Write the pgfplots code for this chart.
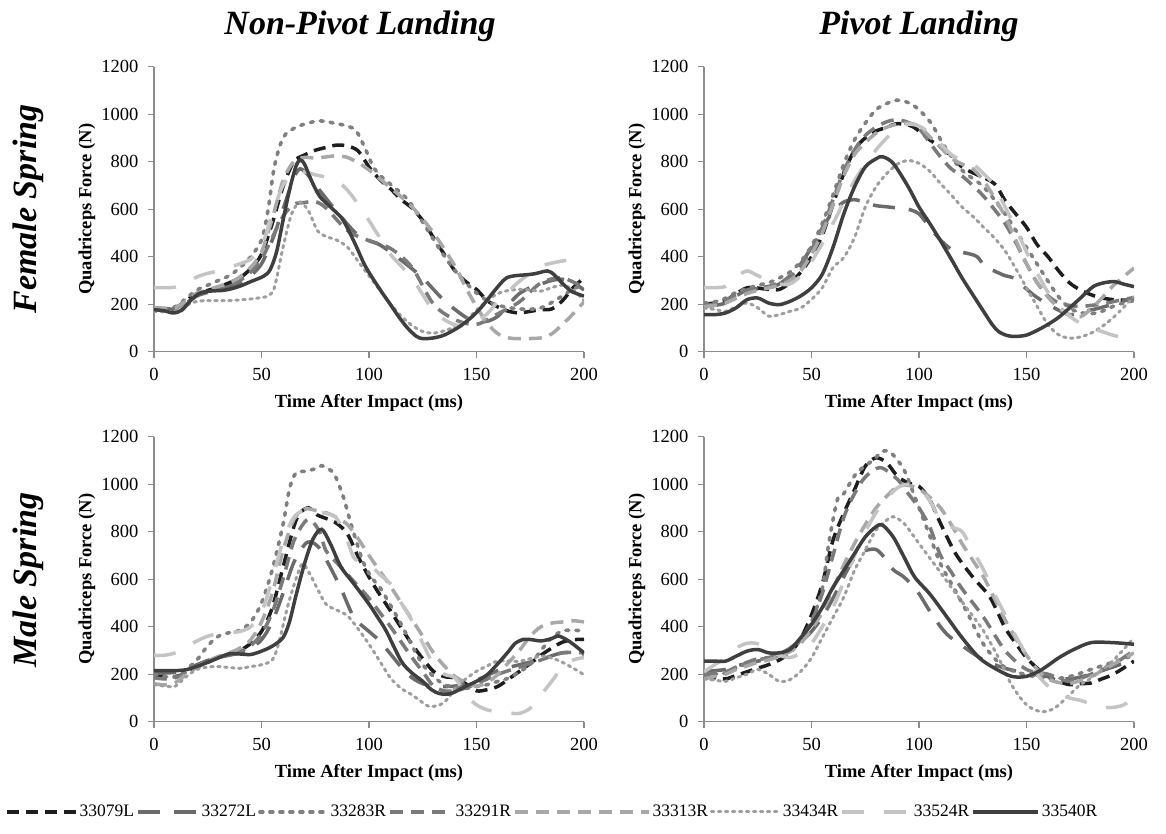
\documentclass[border=0pt]{standalone}
\usepackage{fontspec}
\setmainfont{Liberation Serif}
\usepackage{pgfplots}
\pgfplotsset{compat=1.18}
\definecolor{axgray}{HTML}{8C8C8C}
\definecolor{c79}{HTML}{1E1E1E}
\definecolor{c72}{HTML}{6B6B6B}
\definecolor{c83}{HTML}{808080}
\definecolor{c91}{HTML}{7A7A7A}
\definecolor{c13}{HTML}{A8A8A8}
\definecolor{c34}{HTML}{9E9E9E}
\definecolor{c24}{HTML}{C4C4C4}
\definecolor{c40}{HTML}{3F3F3F}
\tikzset{
 s79/.style={c79,line width=3.5pt,dash pattern=on 12pt off 7pt,smooth},
 s72/.style={c72,line width=3.5pt,dash pattern=on 22pt off 14pt,smooth},
 s83/.style={c83,line width=3.6pt,line cap=round,dash pattern=on 3pt off 7pt,smooth},
 s91/.style={c91,line width=3.5pt,dash pattern=on 13pt off 8pt,smooth},
 s13/.style={c13,line width=3.5pt,dash pattern=on 13pt off 8pt,smooth},
 s34/.style={c34,line width=3pt,line cap=round,dash pattern=on 2.5pt off 4.5pt,smooth},
 s24/.style={c24,line width=3.5pt,dash pattern=on 22pt off 20pt,smooth},
 s40/.style={c40,line width=3.5pt,solid,smooth},
}
\pgfplotsset{
 lg/.style={legend image code/.code={\draw[##1] (0pt,0pt) -- (#1,0pt);}},
 panel/.style={
  scale only axis, width=430pt, height=285pt,
  xmin=0,xmax=200,ymin=0,ymax=1200,
  xtick={0,50,...,200}, ytick={0,200,...,1200},
  axis x line=bottom, axis y line=left,
  axis line style={-, draw=axgray, line width=1.3pt},
  tick align=outside, major tick length=6pt,
  tick style={draw=axgray, line width=1.3pt},
  every tick label/.append style={font=\fontsize{18.5}{20}\selectfont, text=black},
  xticklabel style={yshift=-7pt},
  yticklabel style={xshift=-6pt},
  /pgf/number format/assume math mode=true,
  /pgf/number format/1000 sep={},
  xlabel={Time After Impact (ms)}, ylabel={Quadriceps Force (N)},
  label style={font=\bfseries\fontsize{18.5}{20}\selectfont},
  xlabel style={at={(axis description cs:0.5,-0.179)},anchor=center},
  ylabel style={at={(axis description cs:-0.156,0.5)},anchor=center},
  no marks,
 }
}
\begin{document}
\begin{tikzpicture}
\path[use as bounding box] (0,0) rectangle (1166pt,834pt);
\node[font=\bfseries\itshape\fontsize{34}{38}\selectfont,anchor=base] at (360pt,799pt) {Non-Pivot Landing};
\node[font=\bfseries\itshape\fontsize{34}{38}\selectfont,anchor=base] at (919pt,799pt) {Pivot Landing};
\node[font=\bfseries\itshape\fontsize{34}{38}\selectfont,rotate=90,anchor=center] at (28pt,625pt) {Female Spring};
\node[font=\bfseries\itshape\fontsize{34}{38}\selectfont,rotate=90,anchor=center] at (28pt,254pt) {Male Spring};

% ---------- Female, Non-Pivot ----------
\begin{axis}[panel, at={(154pt,482.3pt)}, anchor=south west]
\addplot[s79] coordinates {(0,180)(5,178)(10,185)(15,215)(20,245)(25,258)(30,272)(35,290)(40,311)(45,350)(50,410)(55,540)(60,694)(65,800)(70,828)(75,848)(80,860)(85,870)(90,866)(95,845)(100,778)(105,725)(110,686)(115,640)(120,605)(125,552)(130,480)(135,410)(140,340)(145,295)(150,262)(155,215)(160,188)(165,170)(170,163)(175,170)(180,177)(185,180)(190,215)(195,270)(200,311)};
\addplot[s72] coordinates {(0,185)(5,182)(10,180)(15,205)(20,235)(25,250)(30,262)(35,275)(40,290)(45,320)(50,370)(55,470)(60,600)(65,730)(68,770)(72,740)(77,680)(85,590)(95,490)(105,450)(115,385)(125,310)(135,215)(145,145)(150,130)(155,128)(160,150)(165,200)(170,245)(175,270)(180,285)(185,300)(190,305)(195,290)(200,260)};
\addplot[s83] coordinates {(0,185)(5,180)(10,190)(15,225)(20,260)(25,280)(30,300)(35,320)(40,354)(45,400)(50,470)(53,594)(56,780)(60,900)(65,940)(70,958)(77,972)(85,960)(90,950)(94,930)(98,860)(102,778)(106,735)(110,705)(118,640)(125,545)(133,430)(141,330)(149,255)(155,215)(160,195)(170,180)(180,185)(190,235)(195,265)(200,280)};
\addplot[s91] coordinates {(0,180)(5,178)(10,182)(15,210)(20,240)(25,255)(30,265)(35,280)(40,300)(45,335)(50,390)(55,480)(60,570)(65,620)(70,628)(75,632)(80,605)(90,510)(100,467)(110,435)(120,355)(130,200)(140,135)(150,115)(160,160)(170,210)(180,290)(190,310)(200,270)};
\addplot[s13] coordinates {(0,185)(5,182)(10,185)(15,215)(20,245)(25,260)(30,275)(35,290)(40,315)(45,355)(50,420)(55,560)(60,720)(65,800)(70,818)(75,815)(80,820)(85,825)(90,818)(95,795)(100,765)(110,690)(120,610)(130,500)(140,360)(145,270)(150,190)(155,120)(160,75)(165,58)(170,55)(180,58)(185,75)(190,115)(195,160)(200,210)};
\addplot[s34] coordinates {(0,170)(5,168)(10,172)(15,195)(20,212)(25,215)(30,215)(35,215)(40,218)(45,222)(50,228)(53,235)(56,270)(60,439)(64,580)(68,630)(72,590)(76,510)(80,485)(85,470)(90,440)(95,380)(100,320)(105,260)(110,200)(115,150)(120,110)(125,85)(130,78)(135,88)(140,105)(145,130)(150,175)(155,215)(160,245)(165,258)(170,262)(175,260)(180,255)(185,270)(190,280)(195,260)(200,215)};
\addplot[s24] coordinates {(0,270)(5,270)(10,272)(15,290)(20,315)(25,330)(30,340)(35,355)(40,370)(45,390)(50,440)(55,580)(60,700)(65,755)(70,757)(75,745)(80,735)(85,720)(90,680)(95,620)(100,552)(105,480)(110,410)(115,360)(120,311)(125,240)(130,170)(135,135)(140,113)(145,110)(150,127)(155,160)(160,212)(165,255)(170,297)(175,330)(180,361)(190,382)(200,395)};
\addplot[s40] coordinates {(0,177)(5,172)(9,163)(13,175)(17,215)(21,245)(26,255)(32,258)(36,265)(40,276)(45,295)(51,318)(54,345)(57,420)(60,552)(63,680)(66,780)(68,807)(70,790)(73,725)(77,655)(82,610)(87,566)(90,520)(94,445)(98,365)(102,305)(106,250)(110,198)(114,145)(118,99)(122,65)(125,55)(130,58)(135,70)(141,99)(145,125)(149,156)(153,195)(157,241)(161,285)(164,311)(168,320)(172,323)(177,328)(183,340)(186,325)(189,297)(194,255)(200,234)};
\end{axis}

% ---------- Female, Pivot ----------
\begin{axis}[panel, at={(704pt,482.3pt)}, anchor=south west]
\addplot[s79] coordinates {(0,200)(5,205)(10,215)(15,245)(20,269)(25,268)(30,262)(35,262)(40,290)(45,335)(50,400)(55,490)(60,620)(65,750)(70,850)(74,892)(79,925)(85,945)(90,960)(97,948)(105,892)(112,849)(120,778)(127,745)(135,708)(140,637)(145,580)(150,524)(155,450)(160,400)(165,340)(170,290)(175,260)(180,240)(185,226)(192,218)(200,218)};
\addplot[s72] coordinates {(0,190)(5,195)(10,205)(15,235)(20,260)(25,265)(30,270)(35,285)(40,320)(45,370)(50,440)(55,520)(60,590)(65,630)(70,640)(75,628)(80,615)(85,610)(90,605)(95,600)(100,580)(105,524)(110,470)(116,425)(122,415)(127,400)(131,355)(135,340)(140,320)(144,311)(148,280)(153,241)(158,210)(163,184)(170,156)(177,170)(184,184)(192,205)(200,226)};
\addplot[s83] coordinates {(0,205)(5,210)(10,225)(15,250)(20,265)(25,280)(30,290)(35,310)(40,335)(45,380)(50,445)(55,540)(60,660)(65,790)(70,892)(75,962)(80,1019)(85,1045)(90,1059)(97,1040)(105,970)(112,863)(120,764)(130,694)(140,580)(150,439)(160,297)(165,230)(170,184)(175,165)(180,160)(185,170)(190,190)(195,205)(200,215)};
\addplot[s91] coordinates {(0,195)(5,200)(10,215)(15,240)(20,258)(25,268)(30,275)(35,290)(40,315)(45,360)(50,430)(55,520)(60,640)(65,760)(70,850)(75,910)(80,945)(85,968)(90,977)(95,965)(100,940)(105,880)(110,820)(115,770)(120,740)(125,700)(130,655)(135,600)(140,540)(145,460)(150,370)(155,290)(160,235)(165,205)(170,195)(175,190)(180,195)(185,200)(190,210)(195,220)(200,228)};
\addplot[s13] coordinates {(0,190)(5,195)(10,205)(15,225)(20,245)(25,258)(30,268)(35,280)(40,300)(45,340)(50,410)(55,500)(60,620)(65,740)(70,830)(75,880)(80,920)(85,945)(90,958)(95,962)(100,950)(105,905)(110,860)(115,815)(120,790)(125,770)(130,720)(135,650)(140,570)(145,470)(150,370)(155,290)(160,230)(165,185)(170,155)(175,147)(180,180)(185,225)(190,275)(195,315)(200,352)};
\addplot[s34] coordinates {(0,184)(5,178)(10,170)(15,190)(20,205)(25,185)(30,150)(35,156)(40,170)(45,184)(50,220)(55,269)(60,354)(65,396)(70,481)(75,609)(80,694)(85,750)(90,790)(95,805)(100,793)(105,760)(110,708)(115,660)(120,609)(125,570)(130,524)(135,480)(140,425)(145,350)(150,269)(155,190)(160,113)(165,71)(170,57)(175,62)(180,78)(185,105)(190,141)(195,185)(200,232)};
\addplot[s24] coordinates {(0,270)(5,270)(10,275)(15,315)(20,340)(25,320)(30,300)(35,285)(40,285)(45,320)(50,380)(55,455)(60,540)(65,630)(70,720)(75,790)(80,850)(85,900)(90,940)(95,958)(100,950)(105,920)(110,875)(115,830)(120,805)(125,790)(130,750)(135,700)(140,610)(145,520)(150,420)(155,330)(160,250)(165,195)(170,150)(175,120)(180,100)(185,85)(190,70)(195,60)(200,57)};
\addplot[s40] coordinates {(0,156)(5,156)(10,163)(15,185)(20,219)(25,226)(30,205)(35,198)(40,212)(45,235)(50,269)(55,326)(60,439)(65,580)(70,694)(75,778)(80,812)(83,821)(88,793)(95,694)(100,609)(105,540)(110,467)(115,390)(120,311)(125,240)(130,170)(134,115)(137,85)(141,68)(145,64)(150,70)(155,90)(160,115)(165,145)(170,184)(175,225)(181,274)(186,290)(191,295)(195,285)(200,274)};
\end{axis}

% ---------- Male, Non-Pivot ----------
\begin{axis}[panel, at={(154pt,112.3pt)}, anchor=south west,
  legend columns=8,
  legend style={at={(axis description cs:-0.3465,-0.316)}, anchor=west, draw=none, fill=none,
    font=\fontsize{17.5}{19}\selectfont, inner sep=0pt,
    nodes={inner xsep=2pt, inner ysep=1pt},
    /tikz/every odd column/.append style={column sep=0pt},
    /tikz/every even column/.append style={column sep=0pt}},
  legend cell align=left,
  legend entries={33079L,33272L,33283R,33291R,33313R,33434R,33524R,33540R}]
\addplot[s79,lg=69pt] coordinates {(0,190)(5,190)(10,190)(15,205)(20,230)(25,250)(30,270)(35,285)(40,300)(45,330)(50,380)(55,480)(60,650)(65,820)(68,880)(72,900)(76,870)(80,856)(85,835)(90,790)(95,694)(100,609)(105,535)(110,467)(115,395)(120,326)(125,265)(130,212)(135,190)(140,184)(145,160)(150,130)(155,135)(160,149)(165,180)(170,212)(175,245)(180,280)(185,310)(190,335)(195,345)(200,347)};
\addplot[s72,lg=60pt] coordinates {(0,205)(5,205)(10,208)(15,220)(20,240)(25,258)(30,270)(35,280)(40,290)(45,310)(50,345)(55,420)(60,540)(65,670)(70,745)(73,757)(77,730)(82,650)(87,560)(93,440)(100,380)(105,340)(110,285)(115,230)(120,185)(125,160)(130,150)(140,150)(150,175)(160,215)(170,240)(180,262)(190,290)(200,285)};
\addplot[s83,lg=67pt] coordinates {(0,200)(5,190)(10,190)(15,220)(20,260)(25,320)(30,360)(35,375)(40,385)(45,420)(50,500)(55,640)(60,830)(63,980)(66,1047)(70,1054)(75,1065)(78,1078)(81,1065)(84,1040)(88,948)(92,821)(97,679)(101,610)(105,566)(110,490)(115,410)(120,320)(125,241)(130,190)(135,156)(140,145)(145,141)(150,148)(155,156)(160,170)(165,184)(170,210)(175,241)(180,300)(185,354)(190,382)(195,385)(200,382)};
\addplot[s91,lg=62pt] coordinates {(0,185)(5,180)(10,185)(15,210)(20,235)(25,255)(30,270)(35,280)(40,295)(45,320)(50,370)(55,460)(60,600)(65,760)(70,840)(73,849)(77,800)(80,720)(85,670)(90,620)(95,570)(100,520)(105,460)(110,400)(115,335)(120,270)(125,210)(130,150)(135,130)(140,130)(145,142)(150,160)(155,180)(160,200)(170,230)(180,260)(190,290)(200,290)};
\addplot[s13,lg=134pt] coordinates {(0,160)(5,155)(10,165)(15,200)(20,230)(25,255)(30,275)(35,290)(40,310)(45,345)(50,420)(55,540)(60,720)(65,850)(70,895)(75,890)(80,880)(85,860)(90,830)(95,770)(100,700)(105,635)(110,570)(115,500)(120,430)(125,360)(130,290)(135,235)(140,190)(145,165)(150,150)(155,165)(160,200)(165,250)(170,300)(175,360)(180,400)(185,415)(190,420)(195,425)(200,420)};
\addplot[s34,lg=68pt] coordinates {(0,156)(5,150)(10,150)(15,190)(20,220)(25,230)(30,232)(35,228)(40,225)(45,232)(50,240)(55,260)(58,330)(62,480)(66,600)(69,665)(72,630)(76,560)(80,495)(85,470)(90,446)(95,390)(100,326)(105,255)(110,184)(115,140)(120,113)(125,80)(128,64)(133,71)(137,100)(140,141)(145,180)(150,212)(155,235)(160,255)(170,255)(180,276)(185,268)(190,250)(195,225)(200,198)};
\addplot[s24,lg=68pt] coordinates {(0,280)(5,280)(10,290)(15,315)(20,340)(25,360)(30,370)(35,375)(40,380)(45,400)(50,460)(55,600)(60,760)(65,860)(70,890)(75,880)(80,877)(85,856)(90,760)(93,690)(97,670)(100,665)(105,620)(110,580)(115,500)(120,425)(125,330)(130,241)(135,200)(140,184)(145,113)(150,71)(155,50)(160,42)(165,37)(170,35)(175,57)(180,113)(185,170)(190,230)(195,260)(200,270)};
\addplot[s40,lg=65pt] coordinates {(0,215)(5,215)(10,215)(15,219)(20,233)(25,250)(30,269)(35,286)(40,285)(45,283)(50,297)(55,318)(60,354)(63,420)(66,530)(70,665)(74,770)(78,810)(82,750)(87,651)(93,580)(100,495)(104,440)(108,382)(115,255)(120,205)(125,170)(129,135)(133,118)(138,118)(145,149)(150,170)(155,198)(160,245)(165,297)(168,330)(172,347)(176,345)(180,340)(185,350)(188,361)(192,345)(195,326)(200,290)};
\end{axis}

% ---------- Male, Pivot ----------
\begin{axis}[panel, at={(704pt,112.3pt)}, anchor=south west]
\addplot[s79] coordinates {(0,190)(5,185)(10,180)(15,195)(20,210)(25,225)(30,240)(35,260)(40,290)(45,350)(50,450)(55,580)(60,764)(65,877)(70,977)(75,1076)(80,1111)(85,1090)(90,1033)(95,1005)(100,991)(105,934)(110,835)(117,708)(125,609)(133,524)(140,396)(145,330)(150,269)(155,225)(160,191)(165,170)(170,156)(175,160)(180,163)(185,180)(190,198)(195,225)(200,255)};
\addplot[s72] coordinates {(0,210)(5,215)(10,220)(15,235)(20,245)(25,255)(30,265)(35,280)(40,300)(45,335)(50,380)(55,440)(60,520)(65,610)(70,690)(75,720)(80,725)(84,690)(88,640)(93,609)(99,552)(104,480)(108,425)(113,368)(120,320)(130,260)(140,225)(150,205)(160,190)(170,180)(180,200)(190,230)(200,260)};
\addplot[s83] coordinates {(0,190)(5,200)(10,205)(15,225)(20,245)(25,260)(30,270)(35,285)(40,305)(45,345)(50,420)(55,560)(58,750)(62,934)(65,960)(71,1047)(79,1104)(83,1139)(87,1132)(93,1061)(98,948)(104,807)(110,665)(116,566)(122,467)(130,326)(138,241)(145,210)(150,198)(160,180)(170,190)(180,220)(190,250)(200,280)};
\addplot[s91] coordinates {(0,200)(5,205)(10,210)(15,230)(20,250)(25,265)(30,270)(35,285)(40,310)(45,350)(50,420)(55,540)(60,700)(65,860)(70,960)(75,1030)(82,1070)(90,1020)(95,960)(100,900)(105,820)(110,700)(115,630)(120,560)(130,440)(140,300)(150,220)(160,200)(170,170)(180,200)(190,240)(200,300)};
\addplot[s13] coordinates {(0,180)(5,190)(10,200)(15,220)(20,235)(25,250)(30,260)(35,275)(40,295)(45,330)(50,390)(55,460)(60,560)(65,660)(70,750)(75,830)(80,900)(85,950)(90,990)(95,995)(100,980)(105,945)(110,900)(115,830)(120,750)(125,680)(130,610)(135,520)(140,430)(145,350)(150,280)(155,220)(160,180)(165,165)(170,160)(180,190)(190,240)(200,290)};
\addplot[s34] coordinates {(0,180)(5,175)(10,170)(15,185)(20,200)(25,220)(30,200)(35,170)(40,177)(45,212)(50,269)(55,354)(60,439)(65,524)(70,637)(75,722)(80,807)(85,849)(88,863)(93,835)(100,750)(107,665)(115,566)(122,481)(130,382)(137,269)(143,156)(150,71)(157,42)(163,57)(170,113)(175,156)(180,184)(190,255)(200,354)};
\addplot[s24] coordinates {(0,210)(5,240)(10,270)(15,310)(20,330)(25,328)(30,300)(35,280)(40,270)(45,290)(50,330)(55,400)(60,480)(65,590)(70,700)(75,800)(80,880)(85,940)(90,985)(95,1000)(100,985)(105,930)(110,850)(115,820)(120,800)(125,720)(130,640)(135,540)(140,450)(145,360)(150,280)(155,200)(160,150)(165,120)(170,100)(175,90)(180,75)(185,62)(190,60)(195,70)(200,100)};
\addplot[s40] coordinates {(0,255)(5,255)(10,255)(15,276)(20,297)(25,304)(30,290)(35,290)(40,304)(45,354)(50,410)(55,481)(60,566)(65,637)(70,708)(75,778)(80,821)(83,828)(88,778)(93,694)(98,609)(105,538)(112,453)(120,354)(128,269)(135,226)(143,191)(150,191)(157,219)(165,269)(172,304)(180,333)(190,333)(200,326)};
\end{axis}
\end{tikzpicture}
\end{document}
